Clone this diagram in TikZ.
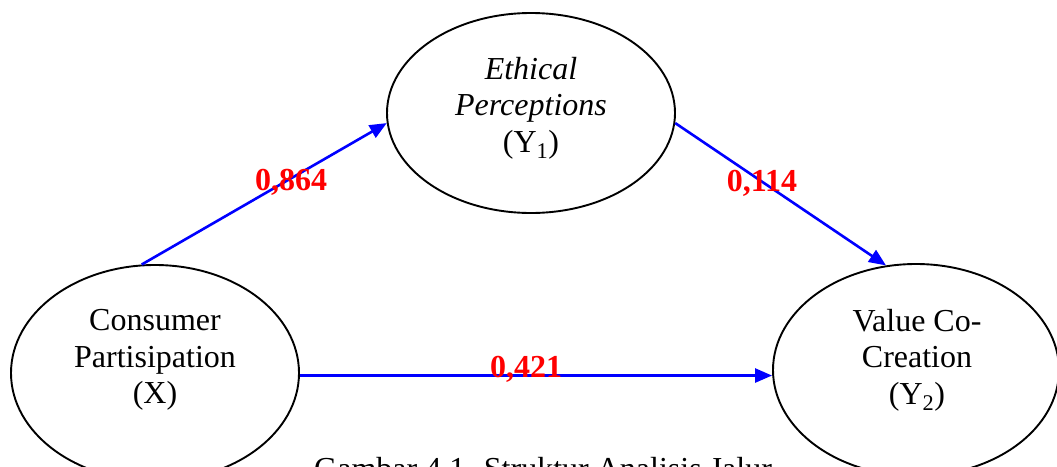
\documentclass[tikz,border=0pt]{standalone}
\usepackage{fontspec}
\setmainfont{Liberation Serif}
\usetikzlibrary{shapes.geometric,arrows.meta}
\definecolor{pathblue}{RGB}{0,0,255}
\definecolor{coefred}{RGB}{255,0,0}
\tikzset{
  construct/.style={ellipse, draw=black, line width=1.9pt, fill=white, inner sep=0pt},
  ctext/.style={align=center, font=\fontsize{32}{36.5}\selectfont, inner sep=0pt},
  coef/.style={font=\fontsize{32}{36}\selectfont\bfseries, text=coefred, inner sep=0pt, anchor=base},
  path/.style={draw=pathblue, line width=2.6pt, -{Triangle[length=17pt,width=14pt]}},
  caption/.style={font=\fontsize{32}{36}\selectfont, inner sep=0pt, anchor=base west}
}
\begin{document}
\begin{tikzpicture}[x=1pt,y=-1pt]
\useasboundingbox (0,0) rectangle (1057,466);
\clip (0,0) rectangle (1057,466);
\node[caption] (cap) at (314,479) {Gambar 4.1. Struktur Analisis Jalur};
\node[construct, minimum width=288pt, minimum height=216pt] (X) at (155,373) {};
\node[construct, minimum width=288pt, minimum height=200pt] (Y1) at (531,113) {};
\node[construct, minimum width=286pt, minimum height=212pt] (Y2) at (916,370) {};
\node[ctext] (tX) at (155,360) {Consumer\\Partisipation\\(X)};
\node[ctext] (tY1) at (531,108) {\itshape Ethical\\\itshape Perceptions\\(Y\textsubscript{1})};
\node[ctext] (tY2) at (917,360) {Value Co-\\Creation\\(Y\textsubscript{2})};
\draw[path] (X.97) -- (Y1.184);
\draw[path] (Y1.-4) -- (Y2.106);
\draw[path] (X.-1) -- (Y2.west |- X.-1);
\node[coef] (c1) at (291,190) {0,864};
\node[coef] (c2) at (762,191) {0,114};
\node[coef] (c3) at (526,377) {0,421};
\end{tikzpicture}
\end{document}
